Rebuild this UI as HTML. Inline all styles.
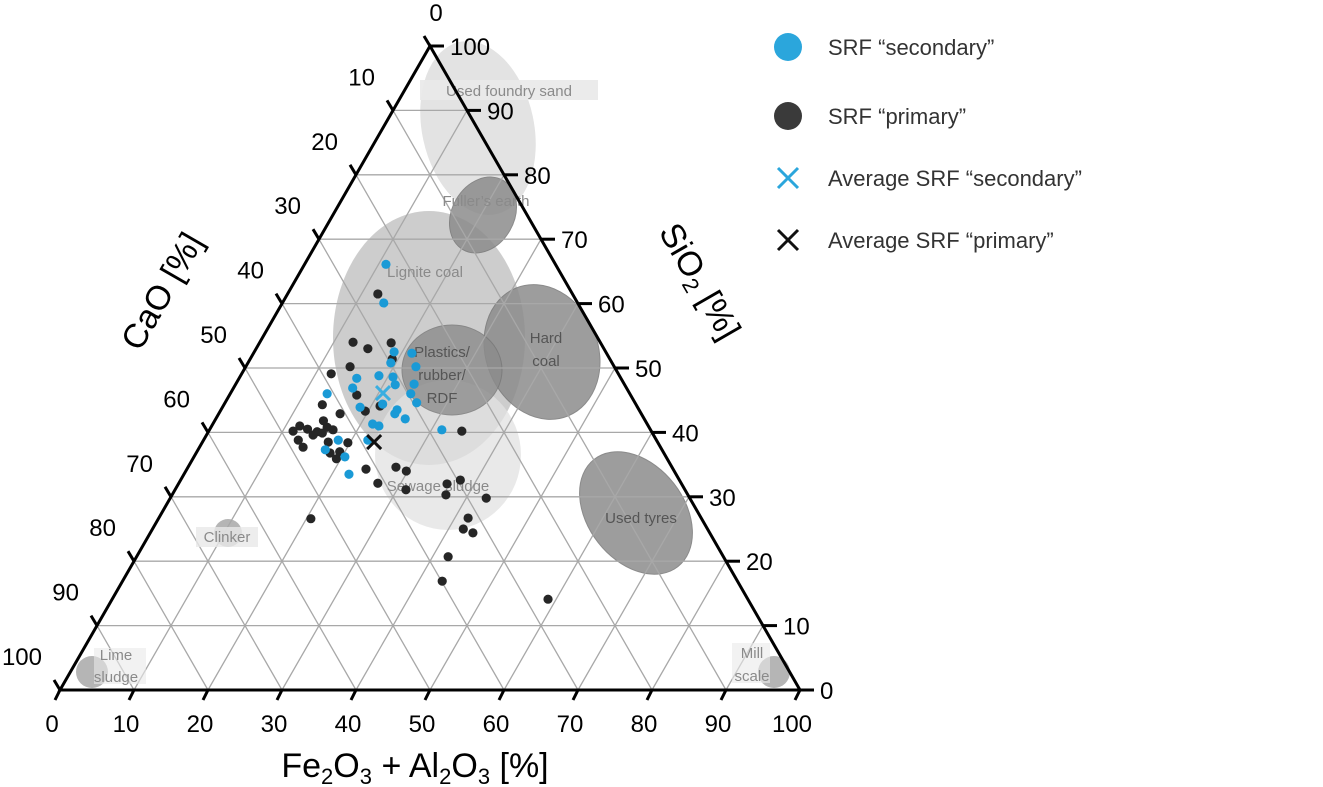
<!DOCTYPE html>
<html><head><meta charset="utf-8">
<style>
html,body{margin:0;padding:0;background:#fff;}
svg{display:block;font-family:"Liberation Sans",Arial,sans-serif;}
.lbl{font-family:"Liberation Sans",sans-serif;fill:#8a8a8a;font-size:15px;}
</style></head>
<body>
<svg id="chart" width="1323" height="787" viewBox="0 0 1323 787" xmlns="http://www.w3.org/2000/svg">
<g id="regions">
  <ellipse cx="478" cy="128" rx="56" ry="88" transform="rotate(-12 478 128)" fill="#e3e3e3"/>
  <ellipse cx="429" cy="338" rx="96" ry="127" fill="#c4c4c4" opacity="0.85"/>
  <ellipse cx="448" cy="455" rx="73" ry="75" fill="#e2e2e2" opacity="0.75"/>
  <ellipse cx="483" cy="215" rx="31" ry="40" transform="rotate(30 483 215)" fill="#8c8c8c" opacity="0.85" stroke="#777" stroke-width="1"/>
  <ellipse cx="542" cy="352" rx="56" ry="69" transform="rotate(-22 542 352)" fill="#8c8c8c" opacity="0.85" stroke="#777" stroke-width="1"/>
  <ellipse cx="452" cy="370" rx="50" ry="45" fill="#8c8c8c" opacity="0.8" stroke="#777" stroke-width="1"/>
  <ellipse cx="636" cy="513" rx="48" ry="68" transform="rotate(-38 636 513)" fill="#8c8c8c" opacity="0.85" stroke="#777" stroke-width="1"/>
  <circle cx="228" cy="533" r="14" fill="#b5b5b5"/>
  <circle cx="92" cy="672" r="16" fill="#b5b5b5"/>
  <circle cx="774" cy="672" r="16" fill="#b5b5b5"/>
</g>
<g id="grid"></g>
<g id="labels">
  <rect x="420" y="80" width="178" height="20" fill="#e9e9e9" opacity="0.9"/>
  <text class="lbl" x="509" y="96" text-anchor="middle">Used foundry sand</text>
  <text class="lbl" x="486" y="206" text-anchor="middle">Fuller’s earth</text>
  <text class="lbl" x="425" y="277" text-anchor="middle">Lignite coal</text>
  <text class="lbl" x="546" y="343" text-anchor="middle" style="fill:#555">Hard</text>
  <text class="lbl" x="546" y="366" text-anchor="middle" style="fill:#555">coal</text>
  <text class="lbl" x="442" y="357" text-anchor="middle" style="fill:#555">Plastics/</text>
  <text class="lbl" x="442" y="380" text-anchor="middle" style="fill:#555">rubber/</text>
  <text class="lbl" x="442" y="403" text-anchor="middle" style="fill:#555">RDF</text>
  <text class="lbl" x="438" y="491" text-anchor="middle">Sewage sludge</text>
  <text class="lbl" x="641" y="523" text-anchor="middle" style="fill:#555">Used tyres</text>
  <rect x="196" y="527" width="62" height="20" fill="#e9e9e9" opacity="0.8"/>
  <text class="lbl" x="227" y="542" text-anchor="middle">Clinker</text>
  <rect x="94" y="648" width="52" height="36" fill="#e9e9e9" opacity="0.6"/>
  <text class="lbl" x="116" y="660" text-anchor="middle">Lime</text>
  <text class="lbl" x="116" y="682" text-anchor="middle">sludge</text>
  <rect x="732" y="643" width="38" height="40" fill="#e9e9e9" opacity="0.6"/>
  <text class="lbl" x="752" y="658" text-anchor="middle">Mill</text>
  <text class="lbl" x="752" y="681" text-anchor="middle">scale</text>
</g>
<g id="axes"></g>
<g id="points"></g>
<text x="0" y="0" font-size="34" text-anchor="middle" transform="translate(172,297) rotate(-60)">CaO [%]</text>
<text x="0" y="0" font-size="34" text-anchor="middle" transform="translate(690,287) rotate(60)">SiO<tspan font-size="22" dy="6">2</tspan><tspan dy="-6"> [%]</tspan></text>
<text x="415" y="777" font-size="34" text-anchor="middle">Fe<tspan font-size="22" dy="7">2</tspan><tspan dy="-7">O</tspan><tspan font-size="22" dy="7">3</tspan><tspan dy="-7"> + Al</tspan><tspan font-size="22" dy="7">2</tspan><tspan dy="-7">O</tspan><tspan font-size="22" dy="7">3</tspan><tspan dy="-7"> [%]</tspan></text>
<g id="legend">
  <g>
    <circle cx="788" cy="47" r="14" fill="#2ba6dc"/>
    <text x="828" y="55" font-size="22" fill="#333">SRF “secondary”</text>
  </g>
  <g>
    <circle cx="788" cy="116" r="14" fill="#3a3a3a"/>
    <text x="828" y="124" font-size="22" fill="#333">SRF “primary”</text>
  </g>
  <g>
    <path d="M778 168 L798 188 M798 168 L778 188" stroke="#2ba6dc" stroke-width="3"/>
    <text x="828" y="186" font-size="22" fill="#333">Average SRF “secondary”</text>
  </g>
  <g>
    <path d="M778 230 L798 250 M798 230 L778 250" stroke="#111" stroke-width="3"/>
    <text x="828" y="248" font-size="22" fill="#333">Average SRF “primary”</text>
  </g>
</g>
</svg>
<script>
// Data: Fe2O3+Al2O3 [%] and SiO2 [%] (CaO = 100 - both)
const secondaryFe = [11.0,13.7,18.9,21.4,19.3,23.0,18.7,20.7,15.9,21.6,24.1,16.1,13.1,24.4,18.6,21.4,25.9,23.8,23.8,25.6,21.6,22.6,31.4,18.2,22.2,17.2,20.4,22.3];
const secondarySi = [66.1,60.1,52.5,52.3,50.8,50.2,48.8,48.6,48.4,47.4,47.5,46.9,46.0,46.0,43.9,44.4,44.6,43.5,42.9,42.1,41.3,41.0,40.4,38.8,38.8,37.3,36.2,33.5];
const primaryFe = [12.2,12.6,15.1,17.8,19.2,14.1,12.1,17.2,13.3,16.4,19.6,21.2,14.7,11.9,11.4,13.2,14.7,15.7,16.7,14.4,15.5,12.8,14.0,17.0,19.7,18.1,19.3,19.4,24.2,28.1,29.8,34.2,37.8,26.9,31.2,36.3,37.0,42.7,20.6,41.8,42.0,43.6,42.1,43.2,58.9];
const primarySi = [61.5,54.0,53.0,53.9,51.4,50.2,49.1,45.8,44.3,42.9,43.3,44.1,41.8,41.0,40.2,40.5,40.1,40.8,40.4,39.6,39.9,38.8,37.7,38.5,38.4,36.8,37.0,35.9,34.3,34.6,34.0,40.2,32.6,32.1,31.1,32.0,30.3,29.8,26.6,26.7,25.0,24.4,20.7,16.9,14.1];
const avgSecondary = [20.6, 46.1];
const avgPrimary = [23.2, 38.5];
const tickValues = [0,10,20,30,40,50,60,70,80,90,100];

const X0 = 60, Y0 = 690, W = 740, H = 644;
function px(fe, si){ return X0 + fe*W/100 + si*W/200; }
function py(fe, si){ return Y0 - si*H/100; }
const NS = "http://www.w3.org/2000/svg";
function mk(tag, attrs, parent){ const e = document.createElementNS(NS, tag); for (const k in attrs) e.setAttribute(k, attrs[k]); parent.appendChild(e); return e; }

const grid = document.getElementById('grid');
for (let i = 10; i < 100; i += 10) {
  let l;
  l = mk('line', {x1:px(0,i),y1:py(0,i),x2:px(100-i,i),y2:py(100-i,i),stroke:'#a8a8a8','stroke-width':1.3}, grid);
  
  
  l = mk('line', {x1:px(i,0),y1:py(i,0),x2:px(i,100-i),y2:py(i,100-i),stroke:'#a8a8a8','stroke-width':1.3}, grid);
  
  
  l = mk('line', {x1:px(i,0),y1:py(i,0),x2:px(0,i),y2:py(0,i),stroke:'#a8a8a8','stroke-width':1.3}, grid);
  
  
}

const axes = document.getElementById('axes');
const tri = mk('polygon', {points:`${px(0,0)},${py(0,0)} ${px(100,0)},${py(100,0)} ${px(0,100)},${py(0,100)}`, fill:'none', stroke:'#000','stroke-width':3,'stroke-linejoin':'miter'}, axes);


tickValues.forEach(v => {
  let bx = px(v,0), by = py(v,0);
  let t = mk('line', {x1:bx,y1:by,x2:bx-5,y2:by+10,stroke:'#000','stroke-width':3}, axes);
  
  
  let tx = mk('text', {x:bx-8,y:by+42,'font-size':24,'text-anchor':'middle'}, axes);
  tx.textContent = v;
  
  
  let rx = px(100-v,v), ry = py(100-v,v);
  t = mk('line', {x1:rx,y1:ry,x2:rx+14,y2:ry,stroke:'#000','stroke-width':3}, axes);
  
  
  tx = mk('text', {x:rx+20,y:ry+9,'font-size':24,'text-anchor':'start'}, axes);
  tx.textContent = v;
  
  
  let lx = px(0,100-v), ly = py(0,100-v);
  t = mk('line', {x1:lx,y1:ly,x2:lx-6,y2:ly-10,stroke:'#000','stroke-width':3}, axes);
  
  
  tx = mk('text', {x:lx-18,y:ly-25,'font-size':24,'text-anchor':'end'}, axes);
  if (v === 0) { tx.setAttribute('x', lx+6); tx.setAttribute('text-anchor','middle'); }
  tx.textContent = v;
  
  
});

const pts = document.getElementById('points');
primaryFe.forEach((f, i) => {
  const c = mk('circle', {cx:px(f,primarySi[i]),cy:py(f,primarySi[i]),r:4.6,fill:'#262626'}, pts);
  
  
});
secondaryFe.forEach((f, i) => {
  const c = mk('circle', {cx:px(f,secondarySi[i]),cy:py(f,secondarySi[i]),r:4.6,fill:'#1a9ad6'}, pts);
  
  
});
function cross(v, col, name){
  const x = px(v[0],v[1]), y = py(v[0],v[1]);
  const p = mk('path', {d:`M${x-7} ${y-7} L${x+7} ${y+7} M${x+7} ${y-7} L${x-7} ${y+7}`, stroke:col,'stroke-width':3}, pts);
  
  
}
cross(avgSecondary, '#3aaee0', 'average-srf-secondary');
cross(avgPrimary, '#111', 'average-srf-primary');
</script>
</body></html>
